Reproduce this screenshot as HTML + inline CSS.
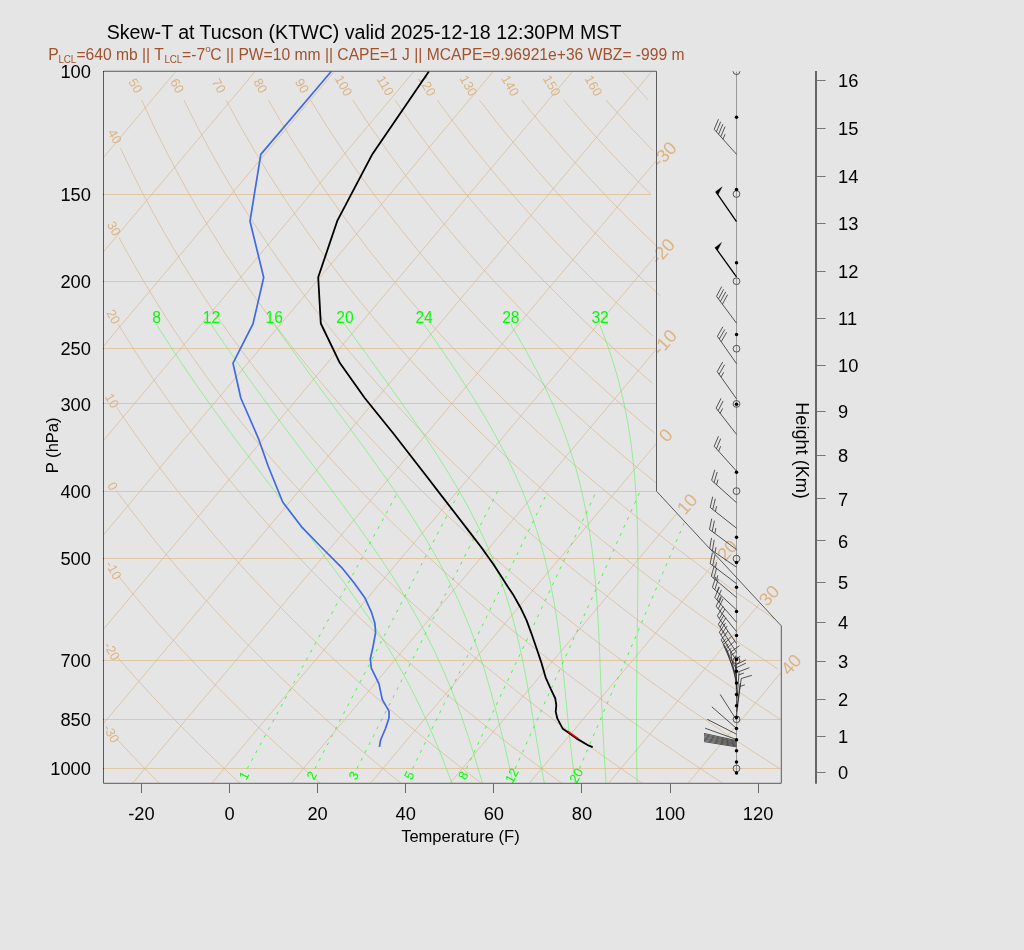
<!DOCTYPE html>
<html><head><meta charset="utf-8"><title>Skew-T</title>
<style>
html,body{margin:0;padding:0;background:#e5e5e5;}
body{width:1024px;height:950px;overflow:hidden;}
svg{display:block;font-family:"Liberation Sans",sans-serif;will-change:transform;}
</style></head><body>
<svg width="1024" height="950" viewBox="0 0 1024 950">
<defs><clipPath id="below"><rect x="0" y="71.25" width="1024" height="900"/></clipPath></defs>
<rect width="1024" height="950" fill="#e5e5e5"/>
<g fill="none" stroke="#d9b88e" stroke-width="0.7">
<path d="M103.5 194.5H651" stroke-width="1" stroke="#dfc6a5"/>
<path d="M103.5 281.5H656" stroke-width="1" stroke="#dfc6a5"/>
<path d="M103.5 348.5H656" stroke-width="1" stroke="#dfc6a5"/>
<path d="M103.5 403.5H656" stroke-width="1" stroke="#dfc6a5"/>
<path d="M103.5 491.5H656.3" stroke-width="1" stroke="#dfc6a5"/>
<path d="M103.5 558.5H714.9" stroke-width="1" stroke="#dfc6a5"/>
<path d="M103.5 660.5H780.8" stroke-width="1" stroke="#dfc6a5"/>
<path d="M103.5 719.5H780.8" stroke-width="1" stroke="#dfc6a5"/>
<path d="M103.5 768.5H780.8" stroke-width="1" stroke="#dfc6a5"/>
<path d="M103.5 157.5L175.5 71.8" />
<path d="M103.5 251.8L254.9 71.8" />
<path d="M103.5 346.1L334.2 71.8" />
<path d="M103.5 440.4L413.6 71.8" />
<path d="M103.5 534.8L492.9 71.8" />
<path d="M103.5 629.1L572.3 71.8" />
<path d="M103.5 723.4L651.6 71.8" />
<path d="M132.5 783.3L656 161" />
<path d="M211.8 783.3L656 255.3" />
<path d="M291.1 783.3L656 349.6" />
<path d="M370.5 783.3L656 443.9" />
<path d="M449.9 783.3L676.8 513.6" />
<path d="M529.2 783.3L717.7 559.2" />
<path d="M608.5 783.3L759.7 603.6" />
<path d="M687.9 783.3L781 672.6" />
<path d="M116.4 738.8L117.5 740L120.6 743.3L123.7 746.6L126.8 749.8L129.8 753L132.9 756.2L135.9 759.3L138.9 762.4L141.9 765.5L144.9 768.5L147.8 771.6L150.8 774.5L153.7 777.5L156.6 780.4L159.5 783.3" />
<path d="M116.6 656.2L120.3 660.5L124 664.8L127.8 669.1L131.5 673.2L135.2 677.4L138.8 681.4L142.5 685.4L146.1 689.4L149.7 693.3L153.3 697.2L156.9 701L160.4 704.7L163.9 708.5L167.4 712.1L170.9 715.7L174.4 719.3L177.8 722.9L181.3 726.4L184.7 729.8L188.1 733.3L191.4 736.6L194.8 740L198.1 743.3L201.4 746.6L204.7 749.8L208 753L211.3 756.2L214.5 759.3L217.8 762.4L221 765.5L224.2 768.5L227.4 771.6L230.6 774.5L233.7 777.5L236.9 780.4L240 783.3" />
<path d="M118 575.5L123.2 581.9L127.7 587.5L132.2 593L136.7 598.3L141.1 603.6L145.5 608.8L149.9 613.9L154.2 618.9L158.5 623.8L162.8 628.6L167 633.4L171.3 638.1L175.5 642.7L179.6 647.3L183.7 651.8L187.9 656.2L191.9 660.5L196 664.8L200 669.1L204 673.2L208 677.4L211.9 681.4L215.9 685.4L219.8 689.4L223.6 693.3L227.5 697.2L231.3 701L235.1 704.7L238.9 708.5L242.7 712.1L246.4 715.7L250.1 719.3L253.8 722.9L257.5 726.4L261.2 729.8L264.8 733.3L268.4 736.6L272 740L275.6 743.3L279.2 746.6L282.7 749.8L286.2 753L289.7 756.2L293.2 759.3L296.7 762.4L300.1 765.5L303.6 768.5L307 771.6L310.4 774.5L313.8 777.5L317.1 780.4L320.5 783.3" />
<path d="M116.3 490.5L122.2 498.5L127.7 505.8L133.1 513L138.5 519.9L143.8 526.7L149.1 533.4L154.3 539.9L159.5 546.3L164.6 552.5L169.7 558.6L174.8 564.6L179.8 570.5L184.8 576.3L189.7 581.9L194.6 587.5L199.4 593L204.2 598.3L209 603.6L213.7 608.8L218.4 613.9L223.1 618.9L227.7 623.8L232.3 628.6L236.9 633.4L241.4 638.1L245.9 642.7L250.4 647.3L254.8 651.8L259.2 656.2L263.6 660.5L267.9 664.8L272.2 669.1L276.5 673.2L280.8 677.4L285 681.4L289.2 685.4L293.4 689.4L297.5 693.3L301.7 697.2L305.8 701L309.8 704.7L313.9 708.5L317.9 712.1L321.9 715.7L325.9 719.3L329.8 722.9L333.8 726.4L337.7 729.8L341.6 733.3L345.4 736.6L349.3 740L353.1 743.3L356.9 746.6L360.7 749.8L364.4 753L368.2 756.2L371.9 759.3L375.6 762.4L379.2 765.5L382.9 768.5L386.6 771.6L390.2 774.5L393.8 777.5L397.4 780.4L400.9 783.3" />
<path d="M116.8 407.4L121.1 413.9L127.7 423.5L134.2 432.8L140.6 441.9L147 450.6L153.3 459.2L159.5 467.5L165.6 475.5L171.7 483.4L177.7 491.1L183.7 498.5L189.6 505.8L195.4 513L201.2 519.9L207 526.7L212.6 533.4L218.3 539.9L223.8 546.3L229.4 552.5L234.8 558.6L240.2 564.6L245.6 570.5L250.9 576.3L256.2 581.9L261.5 587.5L266.7 593L271.8 598.3L276.9 603.6L282 608.8L287 613.9L292 618.9L296.9 623.8L301.9 628.6L306.7 633.4L311.6 638.1L316.4 642.7L321.1 647.3L325.9 651.8L330.6 656.2L335.2 660.5L339.9 664.8L344.5 669.1L349 673.2L353.6 677.4L358.1 681.4L362.6 685.4L367 689.4L371.4 693.3L375.8 697.2L380.2 701L384.5 704.7L388.8 708.5L393.1 712.1L397.4 715.7L401.6 719.3L405.8 722.9L410 726.4L414.2 729.8L418.3 733.3L422.4 736.6L426.5 740L430.6 743.3L434.6 746.6L438.6 749.8L442.6 753L446.6 756.2L450.5 759.3L454.5 762.4L458.4 765.5L462.3 768.5L466.1 771.6L470 774.5L473.8 777.5L477.6 780.4L481.4 783.3" />
<path d="M118.1 324L125.7 336.4L133.4 348.7L141.1 360.6L148.6 372L156.1 383.1L163.5 393.7L170.7 403.9L177.9 413.9L185 423.5L192 432.8L198.9 441.9L205.8 450.6L212.5 459.2L219.2 467.5L225.8 475.5L232.3 483.4L238.8 491.1L245.2 498.5L251.5 505.8L257.8 513L264 519.9L270.1 526.7L276.2 533.4L282.2 539.9L288.2 546.3L294.1 552.5L299.9 558.6L305.7 564.6L311.4 570.5L317.1 576.3L322.8 581.9L328.3 587.5L333.9 593L339.4 598.3L344.8 603.6L350.2 608.8L355.6 613.9L360.9 618.9L366.2 623.8L371.4 628.6L376.6 633.4L381.7 638.1L386.8 642.7L391.9 647.3L396.9 651.8L401.9 656.2L406.9 660.5L411.8 664.8L416.7 669.1L421.6 673.2L426.4 677.4L431.2 681.4L435.9 685.4L440.7 689.4L445.4 693.3L450 697.2L454.6 701L459.2 704.7L463.8 708.5L468.4 712.1L472.9 715.7L477.4 719.3L481.8 722.9L486.3 726.4L490.7 729.8L495 733.3L499.4 736.6L503.7 740L508 743.3L512.3 746.6L516.6 749.8L520.8 753L525 756.2L529.2 759.3L533.4 762.4L537.5 765.5L541.6 768.5L545.7 771.6L549.8 774.5L553.8 777.5L557.9 780.4L561.9 783.3" />
<path d="M119 237.4L125.4 249.3L134.6 265.6L143.6 281.2L152.5 295.9L161.3 310L169.9 323.5L178.4 336.4L186.8 348.7L195.1 360.6L203.2 372L211.2 383.1L219.1 393.7L227 403.9L234.7 413.9L242.3 423.5L249.8 432.8L257.2 441.9L264.5 450.6L271.8 459.2L278.9 467.5L286 475.5L293 483.4L299.9 491.1L306.7 498.5L313.4 505.8L320.1 513L326.7 519.9L333.3 526.7L339.7 533.4L346.1 539.9L352.5 546.3L358.8 552.5L365 558.6L371.1 564.6L377.2 570.5L383.3 576.3L389.3 581.9L395.2 587.5L401.1 593L406.9 598.3L412.7 603.6L418.5 608.8L424.1 613.9L429.8 618.9L435.4 623.8L440.9 628.6L446.4 633.4L451.9 638.1L457.3 642.7L462.7 647.3L468 651.8L473.3 656.2L478.5 660.5L483.8 664.8L488.9 669.1L494.1 673.2L499.2 677.4L504.3 681.4L509.3 685.4L514.3 689.4L519.3 693.3L524.2 697.2L529.1 701L534 704.7L538.8 708.5L543.6 712.1L548.4 715.7L553.1 719.3L557.8 722.9L562.5 726.4L567.2 729.8L571.8 733.3L576.4 736.6L581 740L585.5 743.3L590 746.6L594.5 749.8L599 753L603.4 756.2L607.9 759.3L612.2 762.4L616.6 765.5L621 768.5L625.3 771.6L629.6 774.5L633.9 777.5L638.1 780.4L642.3 783.3" />
<path d="M120.4 148.1L121.7 150.7L132.5 173.1L143.1 194L153.6 213.6L163.9 231.9L174 249.3L183.9 265.6L193.7 281.2L203.3 295.9L212.7 310L222 323.5L231.2 336.4L240.2 348.7L249 360.6L257.8 372L266.4 383.1L274.8 393.7L283.2 403.9L291.4 413.9L299.6 423.5L307.6 432.8L315.5 441.9L323.3 450.6L331 459.2L338.6 467.5L346.1 475.5L353.6 483.4L360.9 491.1L368.2 498.5L375.4 505.8L382.4 513L389.5 519.9L396.4 526.7L403.3 533.4L410.1 539.9L416.8 546.3L423.5 552.5L430.1 558.6L436.6 564.6L443.1 570.5L449.5 576.3L455.8 581.9L462.1 587.5L468.3 593L474.5 598.3L480.6 603.6L486.7 608.8L492.7 613.9L498.7 618.9L504.6 623.8L510.4 628.6L516.3 633.4L522 638.1L527.8 642.7L533.4 647.3L539.1 651.8L544.7 656.2L550.2 660.5L555.7 664.8L561.2 669.1L566.6 673.2L572 677.4L577.3 681.4L582.7 685.4L587.9 689.4L593.2 693.3L598.4 697.2L603.5 701L608.7 704.7L613.8 708.5L618.8 712.1L623.9 715.7L628.9 719.3L633.8 722.9L638.8 726.4L643.7 729.8L648.5 733.3L653.4 736.6L658.2 740L663 743.3L667.8 746.6L672.5 749.8L677.2 753L681.9 756.2L686.5 759.3L691.1 762.4L695.7 765.5L700.3 768.5L704.9 771.6L709.4 774.5L713.9 777.5L718.3 780.4L722.8 783.3" />
<path d="M141.7 100.1L153.9 126.5L165.9 150.7L177.7 173.1L189.2 194L200.6 213.6L211.7 231.9L222.6 249.3L233.3 265.6L243.8 281.2L254.1 295.9L264.2 310L274.1 323.5L283.9 336.4L293.5 348.7L303 360.6L312.3 372L321.5 383.1L330.5 393.7L339.4 403.9L348.2 413.9L356.8 423.5L365.4 432.8L373.8 441.9L382.1 450.6L390.2 459.2L398.3 467.5L406.3 475.5L414.2 483.4L422 491.1L429.7 498.5L437.3 505.8L444.8 513L452.2 519.9L459.6 526.7L466.8 533.4L474 539.9L481.1 546.3L488.2 552.5L495.1 558.6L502 564.6L508.9 570.5L515.6 576.3L522.3 581.9L529 587.5L535.6 593L542.1 598.3L548.5 603.6L554.9 608.8L561.3 613.9L567.6 618.9L573.8 623.8L580 628.6L586.1 633.4L592.2 638.1L598.2 642.7L604.2 647.3L610.1 651.8L616 656.2L621.9 660.5L627.7 664.8L633.4 669.1L639.1 673.2L644.8 677.4L650.4 681.4L656 685.4L661.6 689.4L667.1 693.3L672.5 697.2L678 701L683.4 704.7L688.7 708.5L694.1 712.1L699.4 715.7L704.6 719.3L709.8 722.9L715 726.4L720.2 729.8L725.3 733.3L730.4 736.6L735.4 740L740.5 743.3L745.5 746.6L750.4 749.8L755.4 753L760.3 756.2L765.2 759.3L770 762.4L774.9 765.5L779.7 768.5" />
<path d="M183.9 100.1L197.2 126.5L210.2 150.7L222.9 173.1L235.4 194L247.5 213.6L259.5 231.9L271.2 249.3L282.6 265.6L293.8 281.2L304.8 295.9L315.7 310L326.3 323.5L336.7 336.4L346.9 348.7L357 360.6L366.9 372L376.6 383.1L386.2 393.7L395.7 403.9L405 413.9L414.1 423.5L423.1 432.8L432.1 441.9L440.8 450.6L449.5 459.2L458 467.5L466.5 475.5L474.8 483.4L483 491.1L491.2 498.5L499.2 505.8L507.1 513L515 519.9L522.7 526.7L530.4 533.4L538 539.9L545.5 546.3L552.9 552.5L560.2 558.6L567.5 564.6L574.7 570.5L581.8 576.3L588.9 581.9L595.9 587.5L602.8 593L609.6 598.3L616.4 603.6L623.2 608.8L629.8 613.9L636.4 618.9L643 623.8L649.5 628.6L655.9 633.4L662.3 638.1L668.7 642.7L675 647.3L681.2 651.8L687.4 656.2L693.5 660.5L699.6 664.8L705.6 669.1L711.6 673.2L717.6 677.4L723.5 681.4L729.4 685.4L735.2 689.4L741 693.3L746.7 697.2L752.4 701L758.1 704.7L763.7 708.5L769.3 712.1L774.8 715.7L780.4 719.3" />
<path d="M226.2 100.1L240.5 126.5L254.5 150.7L268.1 173.1L281.5 194L294.5 213.6L307.3 231.9L319.7 249.3L332 265.6L343.9 281.2L355.6 295.9L367.1 310L378.4 323.5L389.4 336.4L400.3 348.7L411 360.6L421.5 372L431.8 383.1L441.9 393.7L451.9 403.9L461.7 413.9L471.4 423.5L480.9 432.8L490.3 441.9L499.6 450.6L508.7 459.2L517.7 467.5L526.6 475.5L535.4 483.4L544.1 491.1L552.6 498.5L561.1 505.8L569.4 513L577.7 519.9L585.9 526.7L593.9 533.4L601.9 539.9L609.8 546.3L617.6 552.5L625.3 558.6L632.9 564.6L640.5 570.5L648 576.3L655.4 581.9L662.7 587.5L670 593L677.2 598.3L684.3 603.6L691.4 608.8L698.4 613.9L705.3 618.9L712.2 623.8L719 628.6L725.8 633.4L732.5 638.1L739.1 642.7L745.7 647.3L752.3 651.8L758.7 656.2L765.2 660.5L771.5 664.8L777.9 669.1" />
<path d="M268.4 100.1L283.8 126.5L298.7 150.7L313.4 173.1L327.6 194L341.5 213.6L355.1 231.9L368.3 249.3L381.3 265.6L394 281.2L406.4 295.9L418.6 310L430.5 323.5L442.2 336.4L453.7 348.7L465 360.6L476 372L486.9 383.1L497.6 393.7L508.1 403.9L518.5 413.9L528.7 423.5L538.7 432.8L548.6 441.9L558.4 450.6L568 459.2L577.5 467.5L586.8 475.5L596 483.4L605.1 491.1L614.1 498.5L623 505.8L631.8 513L640.4 519.9L649 526.7L657.5 533.4L665.8 539.9L674.1 546.3L682.3 552.5L690.4 558.6L698.4 564.6L706.3 570.5L714.2 576.3L721.9 581.9L729.6 587.5L737.2 593L744.8 598.3L752.2 603.6L759.6 608.8L767 613.9L774.2 618.9" />
<path d="M310.6 100.1L327 126.5L343 150.7L358.6 173.1L373.7 194L388.5 213.6L402.9 231.9L416.9 249.3L430.7 265.6L444.1 281.2L457.2 295.9L470 310L482.6 323.5L495 336.4L507.1 348.7L518.9 360.6L530.6 372L542 383.1L553.3 393.7L564.4 403.9L575.3 413.9L586 423.5L596.5 432.8L606.9 441.9L617.1 450.6L627.2 459.2L637.2 467.5L647 475.5L656.7 483.4" />
<path d="M352.8 100.1L370.3 126.5L387.3 150.7L403.8 173.1L419.8 194L435.5 213.6L450.7 231.9L465.5 249.3L480 265.6L494.1 281.2L508 295.9L521.5 310L534.7 323.5L547.7 336.4L560.4 348.7L572.9 360.6L585.2 372L597.2 383.1L609 393.7L620.6 403.9L632 413.9L643.2 423.5L654.3 432.8" />
<path d="M395 100.1L413.6 126.5L431.6 150.7L449 173.1L466 194L482.4 213.6L498.5 231.9L514.1 249.3L529.3 265.6L544.2 281.2L558.8 295.9L573 310L586.9 323.5L600.5 336.4L613.8 348.7L626.9 360.6L639.7 372L652.3 383.1" />
<path d="M437.2 100.1L456.8 126.5L475.8 150.7L494.2 173.1L512.1 194L529.4 213.6L546.3 231.9L562.7 249.3L578.7 265.6L594.3 281.2L609.5 295.9L624.4 310L639 323.5L653.2 336.4" />
<path d="M479.4 100.1L500.1 126.5L520.1 150.7L539.5 173.1L558.2 194L576.4 213.6L594.1 231.9L611.3 249.3L628 265.6L644.4 281.2L660.3 295.9" />
<path d="M521.6 100.1L543.4 126.5L564.4 150.7L584.7 173.1L604.3 194L623.4 213.6L641.9 231.9L659.9 249.3" />
<path d="M563.8 100.1L586.6 126.5L608.7 150.7L629.9 173.1L650.5 194" />
<path d="M606 100.1L629.9 126.5L652.9 150.7" />
<path d="M622.2 71.2L648.2 100.1" />
</g>
<g fill="none" stroke="#36f636" stroke-width="0.48">
<path d="M452 783.3L450.9 780.4L449.8 777.5L448.7 774.5L447.5 771.6L446.4 768.5L445.2 765.5L444 762.4L442.8 759.3L441.6 756.2L440.3 753L439 749.8L437.7 746.6L436.3 743.3L434.9 740L433.5 736.6L432.1 733.3L430.6 729.8L429.1 726.4L427.5 722.9L425.9 719.3L424.3 715.7L422.6 712.1L420.9 708.5L419.1 704.7L417.3 701L415.4 697.2L413.5 693.3L411.5 689.4L409.4 685.4L407.3 681.4L405.1 677.4L402.9 673.2L400.5 669.1L398.1 664.8L395.7 660.5L393.1 656.2L390.5 651.8L387.8 647.3L385 642.7L382.1 638.1L379.1 633.4L376 628.6L372.8 623.8L369.5 618.9L366.1 613.9L362.6 608.8L359 603.6L355.3 598.3L351.5 593L347.6 587.5L343.6 581.9L339.4 576.3L335.2 570.5L330.8 564.6L326.3 558.6L321.7 552.5L317 546.3L312.2 539.9L307.2 533.4L302.1 526.7L296.9 519.9L291.5 513L286 505.8L280.4 498.5L274.7 491.1L268.8 483.4L262.8 475.5L256.7 467.5L250.4 459.2L244 450.6L237.4 441.9L230.7 432.8L223.9 423.5L216.9 413.9L209.8 403.9L202.5 393.7L195.1 383.1L187.5 372L179.8 360.6L172 348.7L164 336.4L156.3 324.3" />
<path d="M482.5 783.3L481.7 780.4L480.8 777.5L479.9 774.5L479 771.6L478.1 768.5L477.2 765.5L476.3 762.4L475.4 759.3L474.4 756.2L473.4 753L472.4 749.8L471.4 746.6L470.4 743.3L469.3 740L468.3 736.6L467.2 733.3L466 729.8L464.9 726.4L463.7 722.9L462.5 719.3L461.2 715.7L460 712.1L458.6 708.5L457.3 704.7L455.8 701L454.4 697.2L452.8 693.3L451.3 689.4L449.6 685.4L448 681.4L446.3 677.4L444.5 673.2L442.7 669.1L440.8 664.8L438.8 660.5L436.8 656.2L434.7 651.8L432.6 647.3L430.3 642.7L428 638.1L425.6 633.4L423.1 628.6L420.5 623.8L417.8 618.9L415 613.9L412.1 608.8L409.1 603.6L406 598.3L402.8 593L399.5 587.5L396 581.9L392.4 576.3L388.6 570.5L384.8 564.6L380.8 558.6L376.6 552.5L372.3 546.3L367.9 539.9L363.3 533.4L358.5 526.7L353.6 519.9L348.5 513L343.3 505.8L337.9 498.5L332.4 491.1L326.6 483.4L320.7 475.5L314.7 467.5L308.4 459.2L302 450.6L295.4 441.9L288.6 432.8L281.7 423.5L274.5 413.9L267.2 403.9L259.7 393.7L252 383.1L244.1 372L236 360.6L227.7 348.7L219.3 336.4L211.1 324.3" />
<path d="M513.3 783.3L512.6 780.4L511.9 777.5L511.2 774.5L510.6 771.6L509.9 768.5L509.2 765.5L508.5 762.4L507.8 759.3L507 756.2L506.3 753L505.6 749.8L504.8 746.6L504.1 743.3L503.3 740L502.5 736.6L501.6 733.3L500.8 729.8L499.9 726.4L499 722.9L498.1 719.3L497.2 715.7L496.3 712.1L495.3 708.5L494.3 704.7L493.3 701L492.3 697.2L491.3 693.3L490.2 689.4L489 685.4L487.9 681.4L486.7 677.4L485.5 673.2L484.2 669.1L482.9 664.8L481.5 660.5L480.1 656.2L478.6 651.8L477 647.3L475.4 642.7L473.7 638.1L472 633.4L470.2 628.6L468.3 623.8L466.3 618.9L464.2 613.9L462 608.8L459.7 603.6L457.4 598.3L454.9 593L452.2 587.5L449.5 581.9L446.6 576.3L443.6 570.5L440.5 564.6L437.2 558.6L433.8 552.5L430.1 546.3L426.4 539.9L422.4 533.4L418.3 526.7L414 519.9L409.5 513L404.8 505.8L399.9 498.5L394.8 491.1L389.5 483.4L384 475.5L378.3 467.5L372.3 459.2L366.2 450.6L359.8 441.9L353.1 432.8L346.3 423.5L339.2 413.9L331.8 403.9L324.2 393.7L316.4 383.1L308.3 372L300 360.6L291.4 348.7L282.5 336.4L274 324.3" />
<path d="M544.3 783.3L543.8 780.4L543.3 777.5L542.7 774.5L542.2 771.6L541.6 768.5L541 765.5L540.5 762.4L539.9 759.3L539.4 756.2L538.8 753L538.3 749.8L537.7 746.6L537.1 743.3L536.6 740L536 736.6L535.5 733.3L534.9 729.8L534.3 726.4L533.8 722.9L533.2 719.3L532.6 715.7L532 712.1L531.4 708.5L530.8 704.7L530.1 701L529.5 697.2L528.8 693.3L528.1 689.4L527.4 685.4L526.7 681.4L526 677.4L525.2 673.2L524.4 669.1L523.5 664.8L522.7 660.5L521.8 656.2L520.8 651.8L519.8 647.3L518.8 642.7L517.7 638.1L516.6 633.4L515.4 628.6L514.2 623.8L512.9 618.9L511.5 613.9L510 608.8L508.5 603.6L506.9 598.3L505.1 593L503.3 587.5L501.4 581.9L499.4 576.3L497.2 570.5L495 564.6L492.6 558.6L490 552.5L487.3 546.3L484.5 539.9L481.4 533.4L478.2 526.7L474.8 519.9L471.3 513L467.5 505.8L463.5 498.5L459.2 491.1L454.7 483.4L450 475.5L445 467.5L439.8 459.2L434.3 450.6L428.5 441.9L422.4 432.8L416 423.5L409.3 413.9L402.3 403.9L395 393.7L387.4 383.1L379.4 372L371.1 360.6L362.5 348.7L353.5 336.4L344.8 324.3" />
<path d="M575.2 783.3L574.9 780.4L574.5 777.5L574.1 774.5L573.7 771.6L573.3 768.5L573 765.5L572.6 762.4L572.2 759.3L571.9 756.2L571.5 753L571.1 749.8L570.8 746.6L570.4 743.3L570 740L569.6 736.6L569.3 733.3L568.9 729.8L568.6 726.4L568.2 722.9L567.9 719.3L567.5 715.7L567.2 712.1L566.8 708.5L566.5 704.7L566.1 701L565.7 697.2L565.4 693.3L565 689.4L564.6 685.4L564.2 681.4L563.8 677.4L563.4 673.2L563 669.1L562.5 664.8L562.1 660.5L561.6 656.2L561.1 651.8L560.5 647.3L560 642.7L559.4 638.1L558.8 633.4L558.1 628.6L557.5 623.8L556.7 618.9L556 613.9L555.1 608.8L554.3 603.6L553.3 598.3L552.3 593L551.3 587.5L550.1 581.9L548.9 576.3L547.6 570.5L546.3 564.6L544.8 558.6L543.2 552.5L541.5 546.3L539.6 539.9L537.7 533.4L535.5 526.7L533.3 519.9L530.8 513L528.2 505.8L525.4 498.5L522.4 491.1L519.1 483.4L515.6 475.5L511.9 467.5L507.9 459.2L503.6 450.6L498.9 441.9L494 432.8L488.7 423.5L483.1 413.9L477.1 403.9L470.7 393.7L463.9 383.1L456.7 372L449 360.6L440.9 348.7L432.3 336.4L423.9 324.3" />
<path d="M606.1 783.3L605.9 780.4L605.7 777.5L605.5 774.5L605.3 771.6L605.1 768.5L604.9 765.5L604.7 762.4L604.5 759.3L604.3 756.2L604.1 753L604 749.8L603.8 746.6L603.6 743.3L603.4 740L603.3 736.6L603.1 733.3L602.9 729.8L602.8 726.4L602.6 722.9L602.4 719.3L602.3 715.7L602.1 712.1L601.9 708.5L601.7 704.7L601.5 701L601.4 697.2L601.2 693.3L601 689.4L600.9 685.4L600.7 681.4L600.6 677.4L600.4 673.2L600.3 669.1L600.1 664.8L599.9 660.5L599.8 656.2L599.6 651.8L599.4 647.3L599.2 642.7L599 638.1L598.8 633.4L598.5 628.6L598.3 623.8L598 618.9L597.7 613.9L597.4 608.8L597.1 603.6L596.7 598.3L596.3 593L595.9 587.5L595.4 581.9L594.9 576.3L594.4 570.5L593.8 564.6L593.1 558.6L592.4 552.5L591.6 546.3L590.7 539.9L589.7 533.4L588.7 526.7L587.5 519.9L586.2 513L584.8 505.8L583.3 498.5L581.6 491.1L579.8 483.4L577.8 475.5L575.6 467.5L573.1 459.2L570.4 450.6L567.5 441.9L564.3 432.8L560.8 423.5L556.9 413.9L552.7 403.9L548 393.7L543 383.1L537.4 372L531.4 360.6L524.8 348.7L517.7 336.4L510.5 324.3" />
<path d="M637.2 783.3L637.1 780.4L637 777.5L637 774.5L636.9 771.6L636.8 768.5L636.8 765.5L636.7 762.4L636.7 759.3L636.6 756.2L636.6 753L636.6 749.8L636.5 746.6L636.5 743.3L636.5 740L636.5 736.6L636.5 733.3L636.5 729.8L636.5 726.4L636.5 722.9L636.5 719.3L636.5 715.7L636.5 712.1L636.5 708.5L636.6 704.7L636.6 701L636.6 697.2L636.6 693.3L636.7 689.4L636.7 685.4L636.7 681.4L636.8 677.4L636.8 673.2L636.8 669.1L636.8 664.8L636.9 660.5L636.9 656.2L636.9 651.8L637 647.3L637 642.7L637.1 638.1L637.2 633.4L637.3 628.6L637.3 623.8L637.4 618.9L637.5 613.9L637.5 608.8L637.6 603.6L637.7 598.3L637.7 593L637.8 587.5L637.8 581.9L637.9 576.3L637.9 570.5L637.9 564.6L637.9 558.6L637.8 552.5L637.8 546.3L637.7 539.9L637.6 533.4L637.4 526.7L637.2 519.9L636.9 513L636.6 505.8L636.2 498.5L635.7 491.1L635.2 483.4L634.6 475.5L633.8 467.5L632.9 459.2L631.9 450.6L630.8 441.9L629.4 432.8L627.9 423.5L626.1 413.9L624.1 403.9L621.7 393.7L619.1 383.1L616.1 372L612.6 360.6L608.7 348.7L604.3 336.4L599.6 324.3" />
</g>
<g fill="none" stroke="#00ff00" stroke-width="0.7" stroke-dasharray="3 5.8">
<path d="M247.3 768.5L398.3 491.1" />
<path d="M315 768.5L459.8 491.1" />
<path d="M357 768.5L497.8 491.1" />
<path d="M412.6 768.5L548 491.1" />
<path d="M466.5 768.5L596.5 491.1" />
<path d="M515.2 768.5L640.2 491.1" />
<path d="M579.5 768.5L684.6 521.9" />
</g>
<g fill="#dbb482" font-size="13">
<text font-size="13" text-anchor="middle" transform="translate(135.7 85.6) rotate(60.0)" y="4.60">50</text>
<text font-size="13" text-anchor="middle" transform="translate(177.3 85.6) rotate(60.0)" y="4.60">60</text>
<text font-size="13" text-anchor="middle" transform="translate(218.9 85.6) rotate(60.0)" y="4.60">70</text>
<text font-size="13" text-anchor="middle" transform="translate(260.6 85.6) rotate(60.0)" y="4.60">80</text>
<text font-size="13" text-anchor="middle" transform="translate(302.2 85.6) rotate(60.0)" y="4.60">90</text>
<text font-size="13" text-anchor="middle" transform="translate(343.8 85.6) rotate(60.0)" y="4.60">100</text>
<text font-size="13" text-anchor="middle" transform="translate(385.5 85.6) rotate(60.0)" y="4.60">110</text>
<text font-size="13" text-anchor="middle" transform="translate(427.1 85.6) rotate(60.0)" y="4.60">120</text>
<text font-size="13" text-anchor="middle" transform="translate(468.7 85.6) rotate(60.0)" y="4.60">130</text>
<text font-size="13" text-anchor="middle" transform="translate(510.4 85.6) rotate(60.0)" y="4.60">140</text>
<text font-size="13" text-anchor="middle" transform="translate(552.0 85.6) rotate(60.0)" y="4.60">150</text>
<text font-size="13" text-anchor="middle" transform="translate(593.6 85.6) rotate(60.0)" y="4.60">160</text>
<text font-size="13" text-anchor="middle" transform="translate(114.9 136.4) rotate(60.0)" y="4.60">40</text>
<text font-size="13" text-anchor="middle" transform="translate(114.1 228.4) rotate(60.0)" y="4.60">30</text>
<text font-size="13" text-anchor="middle" transform="translate(113.6 316.6) rotate(60.0)" y="4.60">20</text>
<text font-size="13" text-anchor="middle" transform="translate(112.2 400.7) rotate(60.0)" y="4.60">10</text>
<text font-size="13" text-anchor="middle" transform="translate(112.9 486.0) rotate(60.0)" y="4.60">0</text>
<text font-size="13" text-anchor="middle" transform="translate(113.7 570.2) rotate(60.0)" y="4.60">-10</text>
<text font-size="13" text-anchor="middle" transform="translate(111.9 651.0) rotate(60.0)" y="4.60">-20</text>
<text font-size="13" text-anchor="middle" transform="translate(111.5 733.5) rotate(60.0)" y="4.60">-30</text>
</g>
<g fill="#dbb482">
<text font-size="18.3" text-anchor="middle" transform="translate(664.1 154.2) rotate(-48.0)" y="6.48">-30</text>
<text font-size="18.3" text-anchor="middle" transform="translate(662.5 251.0) rotate(-48.0)" y="6.48">-20</text>
<text font-size="18.3" text-anchor="middle" transform="translate(664.5 342.0) rotate(-48.0)" y="6.48">-10</text>
<text font-size="18.3" text-anchor="middle" transform="translate(665.6 435.1) rotate(-48.0)" y="6.48">0</text>
<text font-size="18.3" text-anchor="middle" transform="translate(686.9 503.8) rotate(-48.0)" y="6.48">10</text>
<text font-size="18.3" text-anchor="middle" transform="translate(727.3 550.1) rotate(-48.0)" y="6.48">20</text>
<text font-size="18.3" text-anchor="middle" transform="translate(768.9 595.3) rotate(-48.0)" y="6.48">30</text>
<text font-size="18.3" text-anchor="middle" transform="translate(791.0 664.3) rotate(-48.0)" y="6.48">40</text>
</g>
<g fill="#00ff00">
<text font-size="15.6" text-anchor="middle" transform="translate(156.6 317.2) rotate(0.0)" y="5.52">8</text>
<text font-size="15.6" text-anchor="middle" transform="translate(211.4 317.2) rotate(0.0)" y="5.52">12</text>
<text font-size="15.6" text-anchor="middle" transform="translate(274.2 317.2) rotate(0.0)" y="5.52">16</text>
<text font-size="15.6" text-anchor="middle" transform="translate(345.0 317.2) rotate(0.0)" y="5.52">20</text>
<text font-size="15.6" text-anchor="middle" transform="translate(424.1 317.2) rotate(0.0)" y="5.52">24</text>
<text font-size="15.6" text-anchor="middle" transform="translate(510.8 317.2) rotate(0.0)" y="5.52">28</text>
<text font-size="15.6" text-anchor="middle" transform="translate(600.1 317.2) rotate(0.0)" y="5.52">32</text>
<text font-size="13" text-anchor="middle" transform="translate(243.9 775.5) rotate(-62.0)" y="4.60">1</text>
<text font-size="13" text-anchor="middle" transform="translate(311.6 775.5) rotate(-62.0)" y="4.60">2</text>
<text font-size="13" text-anchor="middle" transform="translate(353.6 775.5) rotate(-62.0)" y="4.60">3</text>
<text font-size="13" text-anchor="middle" transform="translate(409.2 775.5) rotate(-62.0)" y="4.60">5</text>
<text font-size="13" text-anchor="middle" transform="translate(463.1 775.5) rotate(-62.0)" y="4.60">8</text>
<text font-size="13" text-anchor="middle" transform="translate(511.8 775.5) rotate(-62.0)" y="4.60">12</text>
<text font-size="13" text-anchor="middle" transform="translate(576.1 775.5) rotate(-62.0)" y="4.60">20</text>
</g>
<path d="M331.4 71.2L260.8 154.4L250 221.2L263.7 277.5L253 323.8L233 363.2L240.8 398L250.4 420L258.9 439.7L268.2 466.3L282.8 502.2L302.3 527.7L322.6 548.5L341.5 567.3L354.2 583L365 598.1L371.3 611.8L374.9 623.2L375.6 632.5L372.8 647.8L370.3 658.8L371.3 668.1L379 683.8L382.2 699.4L389 711.2L389 718.1L385.3 729L380.6 740L379.4 746.9" stroke="#4169e1" stroke-width="1.7" fill="none" stroke-linejoin="round"/>
<path d="M567.6 731.3L578.2 738.8" stroke="#ff0000" stroke-width="1.6" fill="none"/>
<path d="M429 71.2L372.5 153.9L337.5 220.3L318.2 277.2L320.8 323.5L339.9 363.1L364.9 398.2L392.6 432.5L428.5 478.8L442.6 497.1L455.3 513.5L467.9 529.9L480.5 546.3L493.2 564L500.7 575.4L508.3 587.4L512.7 593.9L520.3 607.2L526.6 620.4L531.7 634.3L536.7 648.8L541.2 662.1L545.6 677.3L550.6 688.6L555.3 698.5L556.3 705.3L555.7 711.6L557.4 718.7L562.8 728.8L567.9 732.2L578 739.4L588.9 745.7L592.7 747.1" stroke="#000" stroke-width="1.8" fill="none" stroke-linejoin="round"/>
<path d="M568.2 731.8L577.8 738.6" stroke="#f00" stroke-width="1.1" fill="none"/>
<path d="M736.5 71.7V773" stroke="#9a9a9a" stroke-width="1" fill="none"/>
<path d="M736.5 154.3L714.2 129.3M714.2 129.3L718.5 119.2M716.4 131.8L720.7 121.7M718.6 134.2L722.9 124.1M720.8 136.7L725.1 126.6M723 139.2L725.1 134.2M736.5 323.2L716.5 296.3M716.5 296.3L721.7 286.6M718.5 298.9L723.7 289.3M720.4 301.6L725.7 291.9M722.4 304.2L727.6 294.6M736.5 363.7L717.4 336.3M717.4 336.3L722.9 326.8M719.3 339L724.8 329.5M721.2 341.7L726.7 332.2M736.5 398.9L717.2 371.6M717.2 371.6L722.7 362M719.1 374.3L724.6 364.7M721 377L723.7 372.3M736.5 434.4L716.1 408.1M716.1 408.1L721.1 398.3M718.1 410.7L723.2 400.9M720.1 413.3L722.6 408.5M736.5 471.1L714.2 446.3M714.2 446.3L718.5 436.2M716.4 448.8L720.7 438.6M718.6 451.2L720.7 446.2M736.5 502.6L711.6 480.3M711.6 480.3L714.8 469.8M714.1 482.5L717.2 472M716.5 484.7L718.1 479.5M736.5 528.2L710.2 507.4M710.2 507.4L712.7 496.7M712.8 509.4L715.3 498.7M715.4 511.5L716.6 506.2M736.5 549.5L709.5 529.5M709.5 529.5L711.7 518.7M712.2 531.5L714.4 520.7M714.8 533.4L715.9 528.1M736.5 567.2L709.7 548.8M709.7 548.8L711.5 537.9M712.4 550.7L714.2 539.8M715.1 552.5L716 547.2M736.5 583.6L710.1 563.6M710.1 563.6L712.4 552.8M712.7 565.6L715 554.8M715.4 567.6L716.5 562.3M736.5 597.5L711.3 576.3M711.3 576.3L714.2 565.7M713.8 578.4L716.7 567.8M716.4 580.5L717.8 575.3M736.5 609.8L712.4 587.5M712.4 587.5L715.8 577M714.8 589.7L718.2 579.3M717.2 592L718.9 586.8M736.5 622.3L714.8 597.4M714.8 597.4L719.3 587.3M717 599.9L721.4 589.8M719.1 602.4L721.3 597.4M736.5 631.6L716.1 606.2M716.1 606.2L721 596.3M718.2 608.8L723 598.9M736.5 643.6L717.4 615.8M717.4 615.8L723 606.3M719.3 618.5L724.9 609M736.5 652.4L718.3 624.3M718.3 624.3L724.1 615M720.1 627.1L725.9 617.7M736.5 660.9L719.3 632.2M719.3 632.2L725.5 623.1M721 635L727.2 625.9M736.5 669.5L721.2 639.8M721.2 639.8L727.9 631.1M722.7 642.7L726 638.5M736.5 675.5L723.5 644.8M723.5 644.8L730.9 636.6M724.8 647.8L728.4 643.8M736.5 680.5L726.5 648.6M726.5 648.6L734.6 641.2M727.5 651.7L731.5 648.1M736.5 685L730.5 652.1M730.5 652.1L739.5 645.7M731.1 655.3L735.5 652.2M736.5 689L735.3 655.6M735.4 658.9L740.2 656.4M736.5 698L736 664.6M736 664.6L745.9 659.8M736 667.9L745.9 663.1M736.5 705L739.1 671.6M739.1 671.6L749.4 667.7M738.8 674.9L743.9 673M736.5 711.7L741.3 678.5M741.3 678.5L751.8 675.3M736.5 716L740.2 683.2M739.8 686.5L744.9 684.8M736.5 720L720.2 694.4M736.5 728.4L711.8 706.8M736.5 734.2L707.2 719.3M736.5 739.5L705.1 728.2M736.5 740.6L704 733.4M736.5 741.5L704 734.6M736.5 742.4L704 735.7M736.5 743.3L704 736.9M736.5 744.2L704 738.1M736.5 745.1L704 739.2M736.5 746L704 740.4M736.5 746.9L704 741.6" stroke="#222" stroke-width="0.75" fill="none"/>
<path d="M736.5 221.6L715.8 191.6M736.5 276.8L715.3 247.4" stroke="#000" stroke-width="1.3" fill="none"/>
<path d="M715.8 191.6L722.2 186.8L718 194.7 Z" fill="#000" stroke="#000" stroke-width="0.3"/>
<path d="M715.3 247.4L721.6 242.5L717.5 250.5 Z" fill="#000" stroke="#000" stroke-width="0.3"/>
<g fill="none" stroke="#333" stroke-width="0.8" clip-path="url(#below)">
<circle cx="736.5" cy="71.2" r="3.4"/>
<circle cx="736.5" cy="194" r="3.4"/>
<circle cx="736.5" cy="281.2" r="3.4"/>
<circle cx="736.5" cy="348.7" r="3.4"/>
<circle cx="736.5" cy="403.9" r="3.4"/>
<circle cx="736.5" cy="491.1" r="3.4"/>
<circle cx="736.5" cy="558.6" r="3.4"/>
<circle cx="736.5" cy="660.5" r="3.4"/>
<circle cx="736.5" cy="719.3" r="3.4"/>
<circle cx="736.5" cy="768.5" r="3.4"/>
</g>
<g fill="#000">
<circle cx="736.5" cy="117.2" r="1.75"/>
<circle cx="736.5" cy="189.4" r="1.75"/>
<circle cx="736.5" cy="262.8" r="1.75"/>
<circle cx="736.5" cy="334.4" r="1.75"/>
<circle cx="736.5" cy="404.2" r="1.75"/>
<circle cx="736.5" cy="472.3" r="1.75"/>
<circle cx="736.5" cy="537.2" r="1.75"/>
<circle cx="736.5" cy="562.4" r="1.75"/>
<circle cx="736.5" cy="587.2" r="1.75"/>
<circle cx="736.5" cy="611.6" r="1.75"/>
<circle cx="736.5" cy="635.6" r="1.75"/>
<circle cx="736.5" cy="659.5" r="1.75"/>
<circle cx="736.5" cy="671.2" r="1.75"/>
<circle cx="736.5" cy="683" r="1.75"/>
<circle cx="736.5" cy="694.4" r="1.75"/>
<circle cx="736.5" cy="705.8" r="1.75"/>
<circle cx="736.5" cy="717.4" r="1.75"/>
<circle cx="736.5" cy="728.4" r="1.75"/>
<circle cx="736.5" cy="739.7" r="1.75"/>
<circle cx="736.5" cy="750.8" r="1.75"/>
<circle cx="736.5" cy="762.1" r="1.75"/>
<circle cx="736.5" cy="773" r="1.75"/>
</g>
<path d="M103.5 71.25H656.5V491.2L781.3 625.9V783.3H103.5Z" fill="none" stroke="#5a5a5a" stroke-width="1"/>
<path d="M141.5 783.3V793M229.5 783.3V793M317.5 783.3V793M405.5 783.3V793M493.5 783.3V793M581.5 783.3V793M670.5 783.3V793M758.5 783.3V793" stroke="#666" stroke-width="1" fill="none"/>
<path d="M103 71.5H104M103 194.5H104M103 281.5H104M103 348.5H104M103 403.5H104M103 491.5H104M103 558.5H104M103 660.5H104M103 719.5H104M103 768.5H104" stroke="#333" stroke-width="1" fill="none"/>
<path d="M816 70.9V783.8" stroke="#666" stroke-width="2" fill="none"/>
<path d="M817 772.5H825.6M817 736.5H825.6M817 699.5H825.6M817 661.5H825.6M817 622.5H825.6M817 582.5H825.6M817 540.5H825.6M817 498.5H825.6M817 455.5H825.6M817 411.5H825.6M817 365.5H825.6M817 318.5H825.6M817 271.5H825.6M817 223.5H825.6M817 176.5H825.6M817 128.5H825.6M817 80.5H825.6" stroke="#777" stroke-width="1" fill="none"/>
<g fill="#000" font-size="18.3">
<text x="838.1" y="779.1">0</text>
<text x="838.1" y="742.9">1</text>
<text x="838.1" y="705.7">2</text>
<text x="838.1" y="667.8">3</text>
<text x="838.1" y="628.6">4</text>
<text x="838.1" y="588.6">5</text>
<text x="838.1" y="547.5">6</text>
<text x="838.1" y="505.5">7</text>
<text x="838.1" y="461.9">8</text>
<text x="838.1" y="417.8">9</text>
<text x="838.1" y="371.8">10</text>
<text x="838.1" y="324.8">11</text>
<text x="838.1" y="278.1">12</text>
<text x="838.1" y="229.7">13</text>
<text x="838.1" y="182.5">14</text>
<text x="838.1" y="134.9">15</text>
<text x="838.1" y="87.4">16</text>
<text x="141.4" y="820" text-anchor="middle">-20</text>
<text x="229.5" y="820" text-anchor="middle">0</text>
<text x="317.6" y="820" text-anchor="middle">20</text>
<text x="405.7" y="820" text-anchor="middle">40</text>
<text x="493.8" y="820" text-anchor="middle">60</text>
<text x="581.9" y="820" text-anchor="middle">80</text>
<text x="670" y="820" text-anchor="middle">100</text>
<text x="758.1" y="820" text-anchor="middle">120</text>
<text x="90.9" y="77.8" text-anchor="end">100</text>
<text x="90.9" y="200.6" text-anchor="end">150</text>
<text x="90.9" y="287.8" text-anchor="end">200</text>
<text x="90.9" y="355.3" text-anchor="end">250</text>
<text x="90.9" y="410.5" text-anchor="end">300</text>
<text x="90.9" y="497.7" text-anchor="end">400</text>
<text x="90.9" y="565.2" text-anchor="end">500</text>
<text x="90.9" y="667.1" text-anchor="end">700</text>
<text x="90.9" y="725.9" text-anchor="end">850</text>
<text x="90.9" y="775.1" text-anchor="end">1000</text>
<text transform="translate(795.7 402.3) rotate(90)" font-size="18.1">Height (Km)</text>
</g>
<g fill="#000" font-size="16.55">
<text x="460.4" y="841.7" text-anchor="middle">Temperature (F)</text>
<text transform="translate(58.4 473.2) rotate(-90)">P (hPa)</text>
</g>
<text x="106.7" y="39.2" font-size="19.6" fill="#000">Skew-T at Tucson (KTWC) valid 2025-12-18 12:30PM MST</text>
<g fill="#a0522d" font-size="15.65">
<text x="48.3" y="59.7">P</text><text x="58.4" y="63" font-size="10.6" textLength="17.9" lengthAdjust="spacingAndGlyphs">LCL</text><text x="76.4" y="59.7">=640 mb || T</text><text x="164.4" y="63" font-size="10.6" textLength="17.9" lengthAdjust="spacingAndGlyphs">LCL</text><text x="182.1" y="59.7">=-7</text><text x="205.2" y="52.1" font-size="9.8">o</text><text x="210.3" y="59.7">C || PW=10 mm || CAPE=1 J || MCAPE=9.96921e+36 WBZ= -999 m</text>
</g>
</svg>
</body></html>
